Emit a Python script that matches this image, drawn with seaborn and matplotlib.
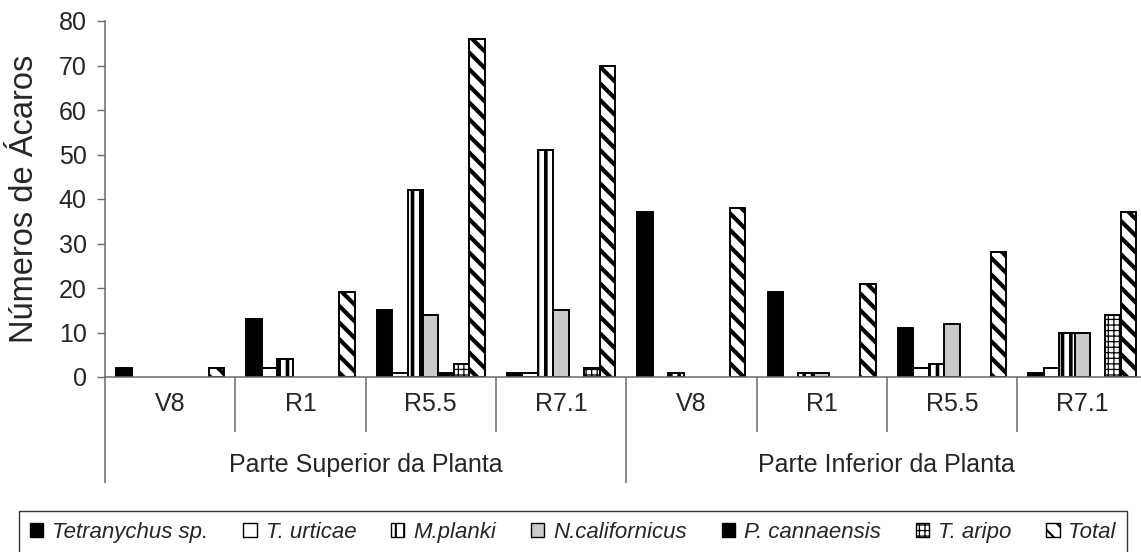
import numpy as np
import pandas as pd
import matplotlib
matplotlib.use("Agg")
import matplotlib.pyplot as plt
import seaborn as sns
from matplotlib.patches import Patch

# ---- data -------------------------------------------------------------
partes = ["Parte Superior da Planta", "Parte Inferior da Planta"]
estadios = ["V8", "R1", "R5.5", "R7.1"]
especies = ["Tetranychus sp.", "T. urticae", "M.planki", "N.californicus",
            "P. cannaensis", "T. aripo", "Total"]

# one value per (parte, estadio): superior V8..R7.1, then inferior V8..R7.1
tetranychus = [2, 13, 15, 1, 37, 19, 11, 1]
t_urticae = [0, 2, 1, 1, 0, 0, 2, 2]
m_planki = [0, 4, 42, 51, 1, 1, 3, 10]
n_californicus = [0, 0, 14, 15, 0, 1, 12, 10]
p_cannaensis = [0, 0, 1, 0, 0, 0, 0, 0]
t_aripo = [0, 0, 3, 2, 0, 0, 0, 14]
total = [2, 19, 76, 70, 38, 21, 28, 37]

yticks = [0, 10, 20, 30, 40, 50, 60, 70, 80]

# ---- long table for seaborn ----------------------------------------------
series = [tetranychus, t_urticae, m_planki, n_californicus,
          p_cannaensis, t_aripo, total]
grupos = [f"{p}|{e}" for p in partes for e in estadios]
rows = []
for esp, vals in zip(especies, series):
    for g, v in zip(grupos, vals):
        rows.append({"grupo": g, "especie": esp, "valor": v})
df = pd.DataFrame(rows)

# ---- style ---------------------------------------------------------------
sns.set_style("white")
plt.rcParams["font.family"] = ["Liberation Sans", "DejaVu Sans"]
plt.rcParams["hatch.linewidth"] = 2.4

fill = {"Tetranychus sp.": "black", "T. urticae": "white", "M.planki": "white",
        "N.californicus": "#cacaca", "P. cannaensis": "black",
        "T. aripo": "white", "Total": "white"}
hatch = {"Tetranychus sp.": None, "T. urticae": None, "M.planki": "||",
         "N.californicus": None, "P. cannaensis": None,
         "T. aripo": "+++", "Total": "\\\\"}
hatch_lw = {"M.planki": 2.6, "T. aripo": 0.9, "Total": 3.0}


def set_hatch_width(patch, lw):
    """Give one patch its own hatch line width."""
    if hasattr(patch, "set_hatch_linewidth"):
        patch.set_hatch_linewidth(lw)
    orig_draw = patch.draw

    def draw(renderer, _orig=orig_draw, _lw=lw):
        with plt.rc_context({"hatch.linewidth": _lw}):
            _orig(renderer)
    patch.draw = draw


W, H = 1141, 552
fig = plt.figure(figsize=(W / 100, H / 100), dpi=100)
ax_left, ax_bottom = 105 / W, 1 - 377 / H
ax_w, ax_h = 8 * 130.3 / W, 356 / H
ax = fig.add_axes([ax_left, ax_bottom, ax_w, ax_h])

sns.barplot(data=df, x="grupo", y="valor", hue="especie", order=grupos,
            hue_order=especies, palette=fill, saturation=1, width=0.83,
            edgecolor="black", linewidth=1.4, legend=False, ax=ax)

for esp, cont in zip(especies, ax.containers):
    for bar in cont:
        if bar.get_height() == 0:
            bar.set_visible(False)
            continue
        if hatch[esp]:
            bar.set_hatch(hatch[esp])
            set_hatch_width(bar, hatch_lw[esp])

# ---- axes ----------------------------------------------------------------
axis_col = "#6a6a6a"
ax.set_xlim(-0.5, 7.5)
ax.set_ylim(0, 80)
ax.set_yticks(yticks)
ax.tick_params(axis="y", length=5.8, width=1, color=axis_col, labelsize=18,
               pad=7.5, direction="out", left=True)
ax.tick_params(axis="x", length=0, labelbottom=False)
ax.set_xlabel("")
ax.set_ylabel("Números de Ácaros", fontsize=23.5, labelpad=13)
for s in ["top", "right"]:
    ax.spines[s].set_visible(False)
for s in ["left", "bottom"]:
    ax.spines[s].set_color(axis_col)
    ax.spines[s].set_linewidth(1.1)

# grouped category axis below the bars
trans = ax.get_xaxis_transform()
y_inner_txt = (377 - 404) / 356
y_outer_txt = (377 - 465) / 356
y_inner_end = (377 - 432) / 356
y_outer_end = (377 - 483) / 356
for i, g in enumerate(grupos):
    ax.text(i, y_inner_txt, g.split("|")[1], transform=trans, ha="center",
            va="center", fontsize=18, clip_on=False)
for k in range(9):
    xb = k - 0.5
    y_end = y_outer_end if k % 4 == 0 else y_inner_end
    ax.plot([xb, xb], [0, y_end], transform=trans, color=axis_col, lw=1.1,
            clip_on=False, solid_capstyle="butt")
for j, p in enumerate(partes):
    ax.text(j * 4 + 1.5, y_outer_txt, p, transform=trans, ha="center",
            va="center", fontsize=18, clip_on=False)

# ---- legend --------------------------------------------------------------
handles = []
for esp in especies:
    h = Patch(facecolor=fill[esp], edgecolor="black", linewidth=1.0,
              hatch=hatch[esp])
    handles.append(h)
leg = fig.legend(handles, especies, loc="upper left", ncol=7, mode="expand",
                 bbox_to_anchor=(19 / W, 0.0, (1127 - 19) / W, 1 - 511 / H),
                 frameon=True, fancybox=False, edgecolor="black",
                 prop={"style": "italic", "size": 16}, handlelength=0.6,
                 handleheight=0.6, handletextpad=0.4, borderaxespad=0,
                 borderpad=0.5, columnspacing=0.5)
leg.get_frame().set_linewidth(1.0)
for h, esp in zip(leg.get_patches(), especies):
    if hatch[esp]:
        set_hatch_width(h, min(hatch_lw[esp], 1.5))

fig.savefig("out.png", dpi=100)
